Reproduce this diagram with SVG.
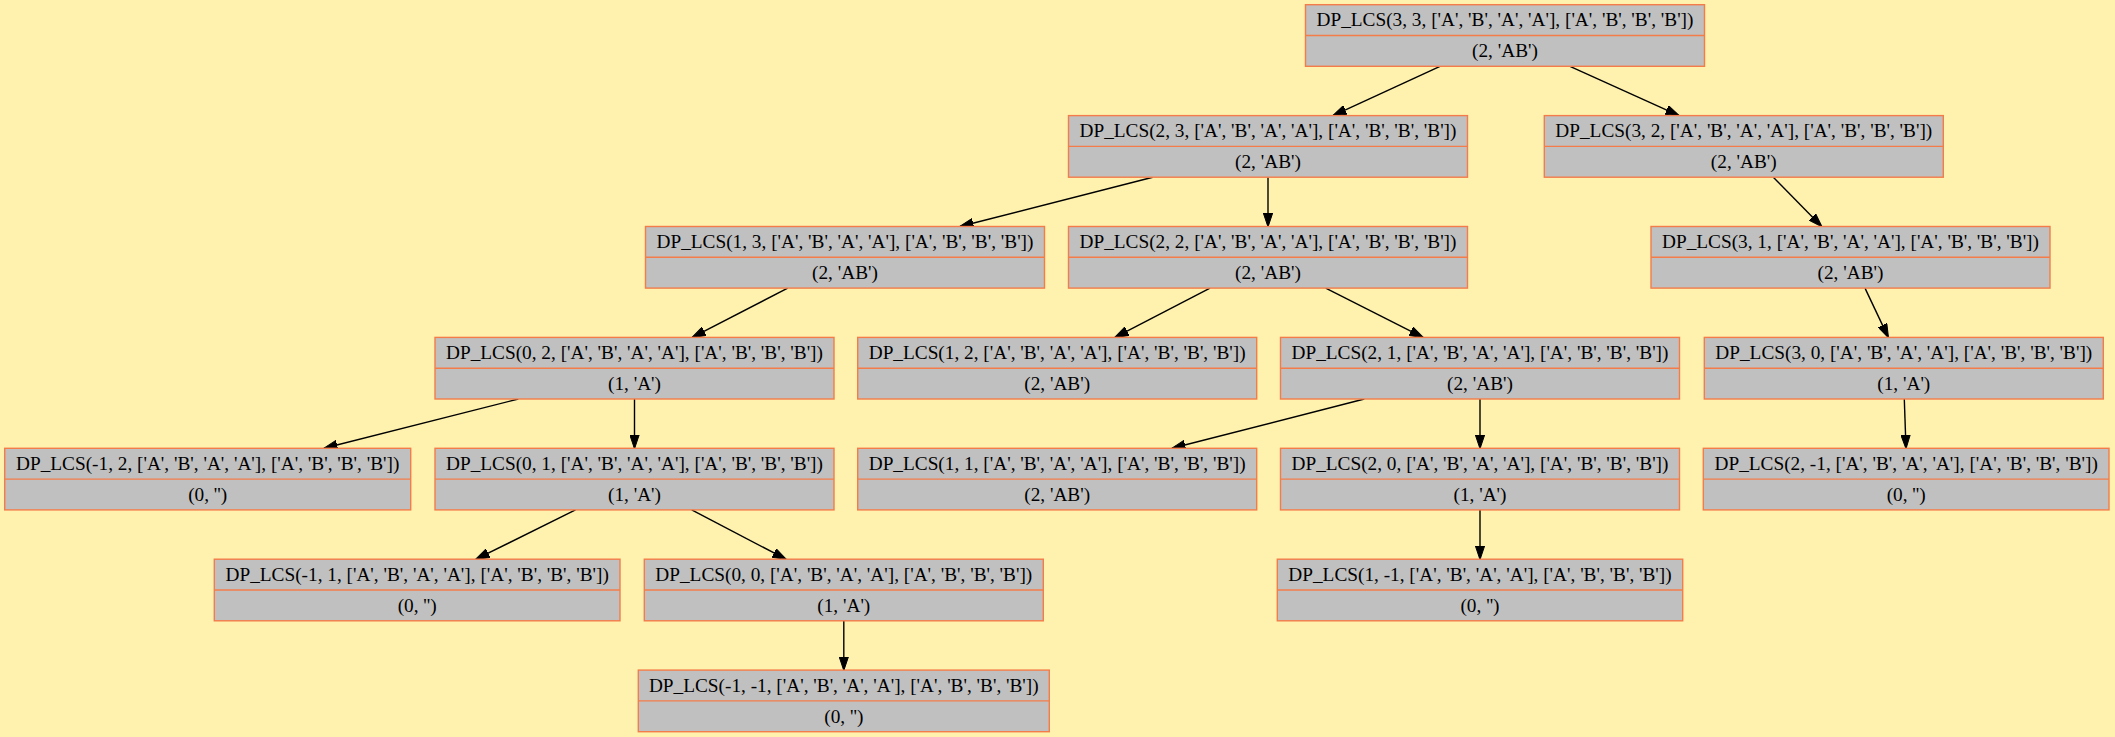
<svg xmlns="http://www.w3.org/2000/svg" width="2115" height="737" viewBox="0 0 2115 737">
<style>
.bg{fill:#fff2ae}
.n rect{fill:#c0c0c0;stroke:#f47c4a;stroke-width:1.4}
.n line{stroke:#f47c4a;stroke-width:1.4}
.n text{font-family:"Liberation Serif","Times New Roman",serif;font-size:19.3px;fill:#000;text-anchor:middle}
#edges path{fill:none;stroke:#000;stroke-width:1.4;marker-end:url(#ah)}
</style>
<defs>
<marker id="ah" markerUnits="userSpaceOnUse" markerWidth="14" markerHeight="10" viewBox="0 0 14 10" refX="13.5" refY="5" orient="auto">
<path d="M0,0.3 L14,5 L0,9.7 z" fill="#000" stroke="#000" stroke-width="1"/>
</marker>
</defs>
<rect class="bg" x="0" y="0" width="2115" height="737"/>
<g id="edges">
<path d="M1440,66.3 L1333,115.6"/>
<path d="M1570,66.3 L1679,115.6"/>
<path d="M1152.7,177.2 L960,226.5"/>
<path d="M1268,177.2 L1268,226.5"/>
<path d="M1773.3,177.2 L1821.7,226.5"/>
<path d="M787.7,288.1 L692.3,337.4"/>
<path d="M1210,288.1 L1115,337.4"/>
<path d="M1325.7,288.1 L1423,337.4"/>
<path d="M1865,288.1 L1888.3,337.4"/>
<path d="M518.3,399 L324,448.3"/>
<path d="M634.5,399 L634.5,448.3"/>
<path d="M1364.3,399 L1172,448.3"/>
<path d="M1480,399 L1480,448.3"/>
<path d="M1904.3,399 L1906,448.3"/>
<path d="M575.5,509.9 L476,559.2"/>
<path d="M691.7,509.9 L786,559.2"/>
<path d="M1480,509.9 L1480,559.2"/>
<path d="M843.8,620.8 L843.8,670.1"/>
</g>
<g id="n_3_3" class="n"><rect x="1305.5" y="4.7" width="399" height="61.6"/><line x1="1305.5" y1="35.5" x2="1704.5" y2="35.5"/><text x="1505" y="26.3">DP_LCS(3, 3, ['A', 'B', 'A', 'A'], ['A', 'B', 'B', 'B'])</text><text x="1505" y="57.1">(2, 'AB')</text></g>
<g id="n_2_3" class="n"><rect x="1068.5" y="115.6" width="399" height="61.6"/><line x1="1068.5" y1="146.4" x2="1467.5" y2="146.4"/><text x="1268" y="137.2">DP_LCS(2, 3, ['A', 'B', 'A', 'A'], ['A', 'B', 'B', 'B'])</text><text x="1268" y="168">(2, 'AB')</text></g>
<g id="n_3_2" class="n"><rect x="1544.3" y="115.6" width="399" height="61.6"/><line x1="1544.3" y1="146.4" x2="1943.3" y2="146.4"/><text x="1743.8" y="137.2">DP_LCS(3, 2, ['A', 'B', 'A', 'A'], ['A', 'B', 'B', 'B'])</text><text x="1743.8" y="168">(2, 'AB')</text></g>
<g id="n_1_3" class="n"><rect x="645.5" y="226.5" width="399" height="61.6"/><line x1="645.5" y1="257.3" x2="1044.5" y2="257.3"/><text x="845" y="248.1">DP_LCS(1, 3, ['A', 'B', 'A', 'A'], ['A', 'B', 'B', 'B'])</text><text x="845" y="278.9">(2, 'AB')</text></g>
<g id="n_2_2" class="n"><rect x="1068.5" y="226.5" width="399" height="61.6"/><line x1="1068.5" y1="257.3" x2="1467.5" y2="257.3"/><text x="1268" y="248.1">DP_LCS(2, 2, ['A', 'B', 'A', 'A'], ['A', 'B', 'B', 'B'])</text><text x="1268" y="278.9">(2, 'AB')</text></g>
<g id="n_3_1" class="n"><rect x="1651" y="226.5" width="399" height="61.6"/><line x1="1651" y1="257.3" x2="2050" y2="257.3"/><text x="1850.5" y="248.1">DP_LCS(3, 1, ['A', 'B', 'A', 'A'], ['A', 'B', 'B', 'B'])</text><text x="1850.5" y="278.9">(2, 'AB')</text></g>
<g id="n_0_2" class="n"><rect x="435" y="337.4" width="399" height="61.6"/><line x1="435" y1="368.2" x2="834" y2="368.2"/><text x="634.5" y="359">DP_LCS(0, 2, ['A', 'B', 'A', 'A'], ['A', 'B', 'B', 'B'])</text><text x="634.5" y="389.8">(1, 'A')</text></g>
<g id="n_1_2" class="n"><rect x="857.7" y="337.4" width="399" height="61.6"/><line x1="857.7" y1="368.2" x2="1256.7" y2="368.2"/><text x="1057.2" y="359">DP_LCS(1, 2, ['A', 'B', 'A', 'A'], ['A', 'B', 'B', 'B'])</text><text x="1057.2" y="389.8">(2, 'AB')</text></g>
<g id="n_2_1" class="n"><rect x="1280.5" y="337.4" width="399" height="61.6"/><line x1="1280.5" y1="368.2" x2="1679.5" y2="368.2"/><text x="1480" y="359">DP_LCS(2, 1, ['A', 'B', 'A', 'A'], ['A', 'B', 'B', 'B'])</text><text x="1480" y="389.8">(2, 'AB')</text></g>
<g id="n_3_0" class="n"><rect x="1704.3" y="337.4" width="399" height="61.6"/><line x1="1704.3" y1="368.2" x2="2103.3" y2="368.2"/><text x="1903.8" y="359">DP_LCS(3, 0, ['A', 'B', 'A', 'A'], ['A', 'B', 'B', 'B'])</text><text x="1903.8" y="389.8">(1, 'A')</text></g>
<g id="n_m1_2" class="n"><rect x="4.7" y="448.3" width="406" height="61.6"/><line x1="4.7" y1="479.1" x2="410.7" y2="479.1"/><text x="207.7" y="469.9">DP_LCS(-1, 2, ['A', 'B', 'A', 'A'], ['A', 'B', 'B', 'B'])</text><text x="207.7" y="500.7">(0, '')</text></g>
<g id="n_0_1" class="n"><rect x="435" y="448.3" width="399" height="61.6"/><line x1="435" y1="479.1" x2="834" y2="479.1"/><text x="634.5" y="469.9">DP_LCS(0, 1, ['A', 'B', 'A', 'A'], ['A', 'B', 'B', 'B'])</text><text x="634.5" y="500.7">(1, 'A')</text></g>
<g id="n_1_1" class="n"><rect x="857.7" y="448.3" width="399" height="61.6"/><line x1="857.7" y1="479.1" x2="1256.7" y2="479.1"/><text x="1057.2" y="469.9">DP_LCS(1, 1, ['A', 'B', 'A', 'A'], ['A', 'B', 'B', 'B'])</text><text x="1057.2" y="500.7">(2, 'AB')</text></g>
<g id="n_2_0" class="n"><rect x="1280.5" y="448.3" width="399" height="61.6"/><line x1="1280.5" y1="479.1" x2="1679.5" y2="479.1"/><text x="1480" y="469.9">DP_LCS(2, 0, ['A', 'B', 'A', 'A'], ['A', 'B', 'B', 'B'])</text><text x="1480" y="500.7">(1, 'A')</text></g>
<g id="n_2_m1" class="n"><rect x="1703.3" y="448.3" width="405.7" height="61.6"/><line x1="1703.3" y1="479.1" x2="2109" y2="479.1"/><text x="1906.2" y="469.9">DP_LCS(2, -1, ['A', 'B', 'A', 'A'], ['A', 'B', 'B', 'B'])</text><text x="1906.2" y="500.7">(0, '')</text></g>
<g id="n_m1_1" class="n"><rect x="214.3" y="559.2" width="405.7" height="61.6"/><line x1="214.3" y1="590" x2="620" y2="590"/><text x="417.2" y="580.8">DP_LCS(-1, 1, ['A', 'B', 'A', 'A'], ['A', 'B', 'B', 'B'])</text><text x="417.2" y="611.6">(0, '')</text></g>
<g id="n_0_0" class="n"><rect x="644.3" y="559.2" width="399" height="61.6"/><line x1="644.3" y1="590" x2="1043.3" y2="590"/><text x="843.8" y="580.8">DP_LCS(0, 0, ['A', 'B', 'A', 'A'], ['A', 'B', 'B', 'B'])</text><text x="843.8" y="611.6">(1, 'A')</text></g>
<g id="n_1_m1" class="n"><rect x="1277.3" y="559.2" width="405.4" height="61.6"/><line x1="1277.3" y1="590" x2="1682.7" y2="590"/><text x="1480" y="580.8">DP_LCS(1, -1, ['A', 'B', 'A', 'A'], ['A', 'B', 'B', 'B'])</text><text x="1480" y="611.6">(0, '')</text></g>
<g id="n_m1_m1" class="n"><rect x="638.3" y="670.1" width="411" height="61.6"/><line x1="638.3" y1="700.9" x2="1049.3" y2="700.9"/><text x="843.8" y="691.7">DP_LCS(-1, -1, ['A', 'B', 'A', 'A'], ['A', 'B', 'B', 'B'])</text><text x="843.8" y="722.5">(0, '')</text></g>
</svg>
